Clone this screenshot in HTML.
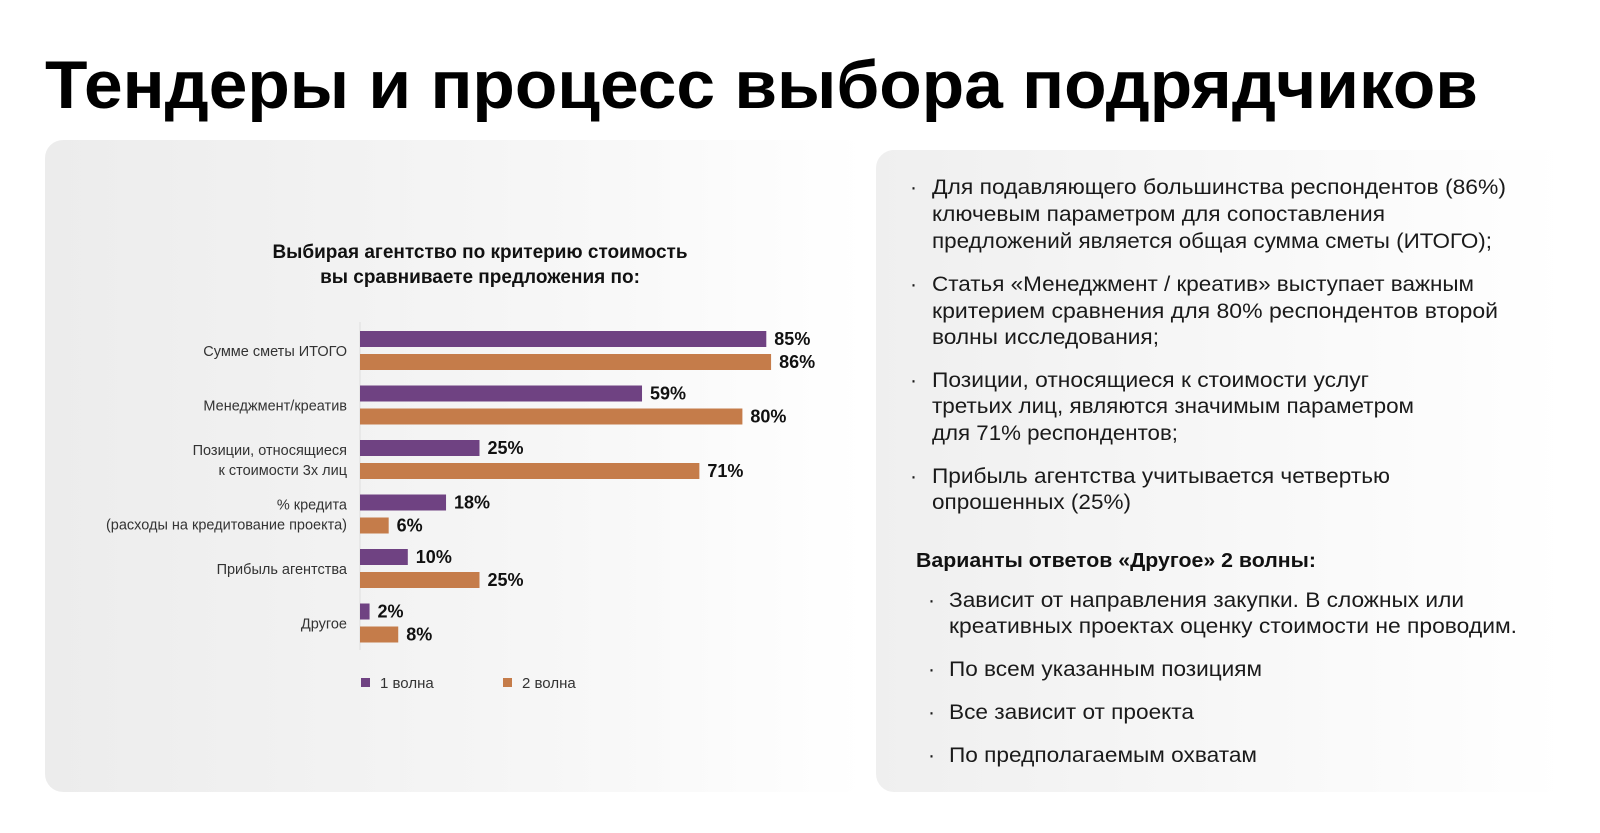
<!DOCTYPE html>
<html><head><meta charset="utf-8"><style>
html,body{margin:0;padding:0;background:#fff;}
svg{display:block;font-family:"Liberation Sans",sans-serif;}
</style></head><body>
<svg width="1600" height="833" viewBox="0 0 1600 833">
<defs>
<linearGradient id="gl" x1="0" y1="0" x2="1" y2="0"><stop offset="0" stop-color="#ececec"/><stop offset="0.6" stop-color="#f6f6f6"/><stop offset="1" stop-color="#ffffff"/></linearGradient>
<linearGradient id="gr" x1="0" y1="0" x2="1" y2="0"><stop offset="0" stop-color="#efefef"/><stop offset="1" stop-color="#ffffff"/></linearGradient>
</defs>
<rect x="45" y="140" width="820" height="652" rx="18" fill="url(#gl)"/>
<rect x="876" y="150" width="690" height="642" rx="18" fill="url(#gr)"/>
<text x="45" y="108" font-size="68" font-weight="bold" fill="#000" textLength="1433" lengthAdjust="spacingAndGlyphs">Тендеры и процесс выбора подрядчиков</text>
<g font-weight="bold" font-size="19" fill="#111" text-anchor="middle">
<text x="480" y="258">Выбирая агентство по критерию стоимость</text>
<text x="480" y="283">вы сравниваете предложения по:</text>
</g>
<line x1="360" y1="322" x2="360" y2="650" stroke="#ddd" stroke-width="1"/>
<g id="bars"></g>
<g font-size="15" fill="#333">
<rect x="361" y="678" width="9" height="9" fill="#6f4282"/>
<text x="380" y="688">1 волна</text>
<rect x="503" y="678" width="9" height="9" fill="#c57c4a"/>
<text x="522" y="688">2 волна</text>
</g>
<g font-size="21" fill="#1a1a1a">
<text x="910" y="194">·</text>
<text x="932" y="194" textLength="574" lengthAdjust="spacingAndGlyphs">Для подавляющего большинства респондентов (86%)</text>
<text x="932" y="221" textLength="453" lengthAdjust="spacingAndGlyphs">ключевым параметром для сопоставления</text>
<text x="932" y="248" textLength="560" lengthAdjust="spacingAndGlyphs">предложений является общая сумма сметы (ИТОГО);</text>
<text x="910" y="291">·</text>
<text x="932" y="291" textLength="542" lengthAdjust="spacingAndGlyphs">Статья «Менеджмент / креатив» выступает важным</text>
<text x="932" y="318" textLength="566" lengthAdjust="spacingAndGlyphs">критерием сравнения для 80% респондентов второй</text>
<text x="932" y="344" textLength="227" lengthAdjust="spacingAndGlyphs">волны исследования;</text>
<text x="910" y="387">·</text>
<text x="932" y="387" textLength="437" lengthAdjust="spacingAndGlyphs">Позиции, относящиеся к стоимости услуг</text>
<text x="932" y="413" textLength="482" lengthAdjust="spacingAndGlyphs">третьих лиц, являются значимым параметром</text>
<text x="932" y="440" textLength="246" lengthAdjust="spacingAndGlyphs">для 71% респондентов;</text>
<text x="910" y="483">·</text>
<text x="932" y="483" textLength="458" lengthAdjust="spacingAndGlyphs">Прибыль агентства учитывается четвертью</text>
<text x="932" y="509" textLength="199" lengthAdjust="spacingAndGlyphs">опрошенных (25%)</text>
</g>
<text x="916" y="567" font-size="20" font-weight="bold" fill="#111" textLength="400" lengthAdjust="spacingAndGlyphs">Варианты ответов «Другое» 2 волны:</text>
<g font-size="21" fill="#1a1a1a">
<text x="928" y="607">·</text>
<text x="949" y="607" textLength="515" lengthAdjust="spacingAndGlyphs">Зависит от направления закупки. В сложных или</text>
<text x="949" y="633" textLength="568" lengthAdjust="spacingAndGlyphs">креативных проектах оценку стоимости не проводим.</text>
<text x="928" y="676">·</text>
<text x="949" y="676" textLength="313" lengthAdjust="spacingAndGlyphs">По всем указанным позициям</text>
<text x="928" y="719">·</text>
<text x="949" y="719" textLength="245" lengthAdjust="spacingAndGlyphs">Все зависит от проекта</text>
<text x="928" y="762">·</text>
<text x="949" y="762" textLength="308" lengthAdjust="spacingAndGlyphs">По предполагаемым охватам</text>
</g>
</svg>
<script>
const categories = [["Сумме сметы ИТОГО"],["Менеджмент/креатив"],["Позиции, относящиеся","к стоимости 3х лиц"],["% кредита","(расходы на кредитование проекта)"],["Прибыль агентства"],["Другое"]];
const wave1 = [85,59,25,18,10,2];
const wave2 = [86,80,71,6,25,8];
const NS="http://www.w3.org/2000/svg";
const g=document.getElementById('bars');
const x0=360, pxPer=4.78, top0=331, step=54.5, bh=16;
function xs(v){return v*pxPer;}
function mk(t,a){const e=document.createElementNS(NS,t);for(const k in a)e.setAttribute(k,a[k]);return e;}
categories.forEach((lines,i)=>{
  const y=top0+i*step;
  [[wave1,'#6f4282',0,'wave1'],[wave2,'#c57c4a',23,'wave2']].forEach(([arr,col,off,nm])=>{
    const r=mk('rect',{x:x0,y:y+off,width:xs(arr[i]),height:bh,fill:col});
    
    
    g.appendChild(r);
    const t=mk('text',{x:x0+xs(arr[i])+8,y:y+off+14,'font-size':18,'font-weight':'bold',fill:'#111'});
    t.textContent=arr[i]+'%';
    
    
    g.appendChild(t);
  });
  const cy=y+20;
  lines.forEach((ln,j)=>{
    const ly = lines.length===1 ? cy+5 : cy-5+j*20;
    const t=mk('text',{x:347,y:ly,'font-size':14.5,fill:'#333','text-anchor':'end'});
    t.textContent=ln;
    
    
    g.appendChild(t);
  });
});
</script>
</body></html>
